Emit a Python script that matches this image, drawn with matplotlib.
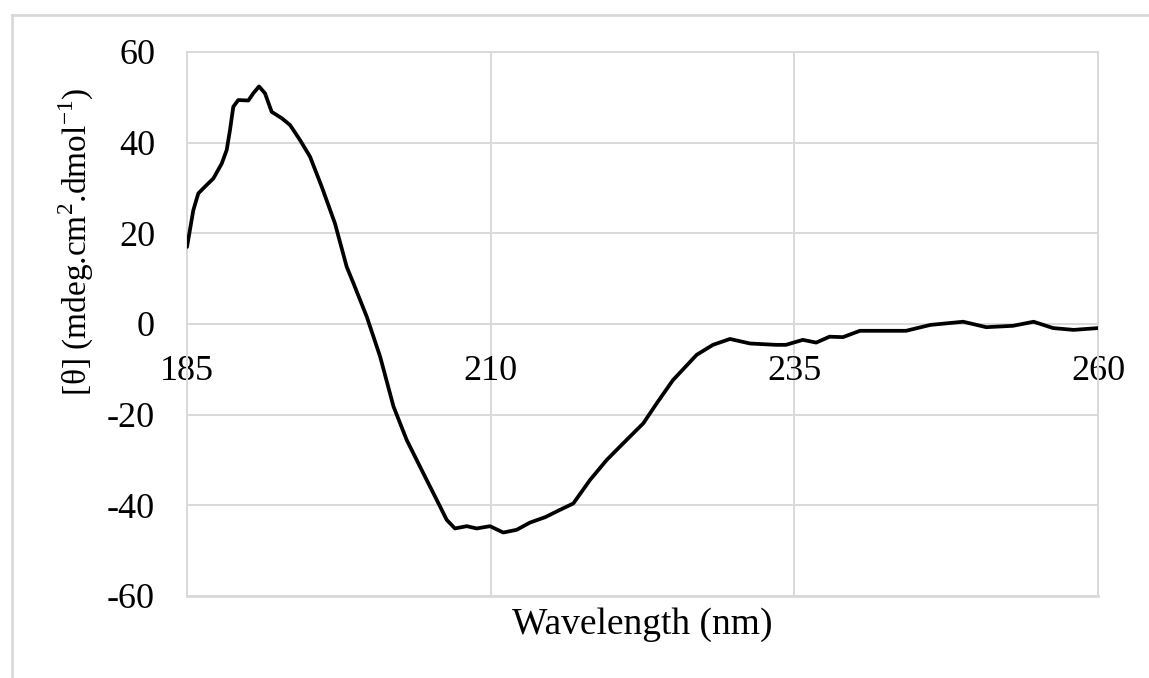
import matplotlib
matplotlib.use("Agg")
import matplotlib.pyplot as plt
from matplotlib.lines import Line2D

# CD spectrum
wavelength = [185.0, 185.52, 185.93, 186.48, 187.17, 187.86, 188.27, 188.54, 188.81, 189.22,
              190.05, 190.46, 190.93, 191.42, 191.97, 192.8, 193.48, 194.3, 195.13, 196.09,
              197.18, 198.15, 198.7, 199.8, 200.9, 202.0, 203.09, 204.45, 205.56, 206.38,
              207.06, 208.03, 208.85, 209.94, 211.04, 212.14, 213.24, 214.5, 215.7, 216.8,
              218.18, 219.55, 220.92, 222.57, 223.67, 225.0, 226.96, 228.3, 229.7, 231.35,
              233.5, 234.3, 235.7, 236.8, 237.9, 239.0, 240.4, 242.3, 244.2, 246.2,
              248.9, 250.8, 253.0, 254.7, 256.3, 258.0, 260.0]
ellipticity = [17.0, 25.1, 28.8, 30.3, 32.1, 35.4, 38.4, 42.8, 47.9, 49.4,
               49.3, 50.9, 52.4, 50.9, 46.8, 45.4, 43.9, 40.6, 36.9, 30.3,
               22.2, 12.6, 9.0, 1.6, -7.2, -18.2, -25.6, -32.9, -38.8, -43.2,
               -45.1, -44.6, -45.1, -44.6, -46.0, -45.4, -43.8, -42.6, -41.0, -39.6,
               -34.4, -30.0, -26.3, -21.9, -17.5, -12.4, -6.8, -4.6, -3.3, -4.3,
               -4.6, -4.6, -3.5, -4.1, -2.8, -2.9, -1.5, -1.5, -1.5, -0.2,
               0.5, -0.7, -0.4, 0.5, -0.9, -1.3, -0.9]

x_ticks = [185, 210, 235, 260]
y_ticks = [-60, -40, -20, 0, 20, 40, 60]

plt.rcParams["font.family"] = ["Liberation Serif", "DejaVu Serif"]
plt.rcParams["mathtext.fontset"] = "custom"
plt.rcParams["mathtext.rm"] = "Liberation Serif"
plt.rcParams["axes.unicode_minus"] = False

grid_col = "#d9d9d9"

fig = plt.figure(figsize=(11.49, 6.78), dpi=100)
ax = fig.add_axes([187 / 1149, 1 - 596 / 678, (1098 - 187) / 1149, (596 - 52) / 678])

ax.plot(wavelength, ellipticity, color="black", lw=2.7,
        solid_joinstyle="round", solid_capstyle="round", zorder=3)

ax.set_xlim(185, 260)
ax.set_ylim(-60, 60)
ax.set_xticks(x_ticks)
ax.set_yticks(y_ticks)
ax.grid(True, color=grid_col, lw=1.4, zorder=0)
ax.set_axisbelow(True)

# x axis sits on the zero line, frame drawn around the plot area
ax.spines["bottom"].set_position(("data", 0))
for s in ax.spines.values():
    s.set_color(grid_col)
    s.set_linewidth(1.4)
ax.axhline(-60, color=grid_col, lw=2.0, clip_on=False, zorder=0)

ax.tick_params(axis="both", length=0, labelsize=26, colors="black")
ax.tick_params(axis="x", pad=22)
ax.tick_params(axis="y", pad=23)

ax.set_xlabel("Wavelength (nm)", fontsize=27)
ax.xaxis.set_label_coords(0.5, (596 - 625) / 544)
ax.xaxis.label.set_verticalalignment("center")

ax.set_ylabel(r"[θ] (mdeg.cm$^{2}$.dmol$^{\mathregular{-1}}$)", fontsize=24)
ax.yaxis.set_label_coords((76 - 187) / 911, (596 - 242) / 544)
ax.yaxis.label.set_verticalalignment("center")

# outer chart border (top and left only visible)
fig.add_artist(Line2D([12 / 1149, 1], [1 - 15 / 678, 1 - 15 / 678], color=grid_col, lw=2.0))
fig.add_artist(Line2D([12 / 1149, 12 / 1149], [0, 1 - 15 / 678], color=grid_col, lw=2.0))

fig.savefig("out.png", dpi=100, facecolor="white")
